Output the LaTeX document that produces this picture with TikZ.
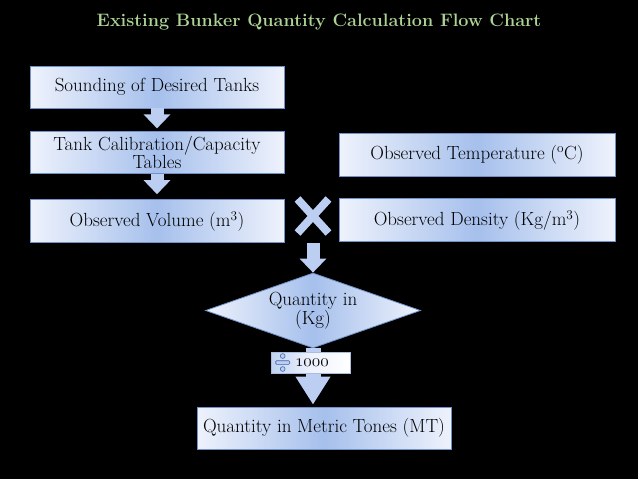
\documentclass[tikz,border=0pt]{standalone}
\usepackage{fontspec}
\usetikzlibrary{arrows.meta,positioning,shapes.geometric,shapes.misc}

\definecolor{titlegreen}{RGB}{172,210,148}
\definecolor{boxlight}{RGB}{238,242,252}
\definecolor{boxmid}{RGB}{166,192,236}
\definecolor{boxedge}{RGB}{112,146,200}
\definecolor{arrowblue}{RGB}{188,207,242}
\definecolor{iconblue}{RGB}{62,102,172}

\newcommand{\osnum}[1]{{\fontencoding{OML}\fontfamily{lmm}\fontseries{m}\fontshape{it}\selectfont #1}}

\begin{document}
\begin{tikzpicture}[
  x=1pt, y=-1pt,
  node distance=23pt,
  box/.style={draw=boxedge,line width=0.8pt,left color=boxlight,right color=boxlight,
    middle color=boxmid,minimum width=254pt,minimum height=42pt,align=center,
    inner ysep=2pt,font=\fontsize{19}{18}\selectfont},
  widebox/.style={box,minimum width=276pt},
  bigarrow/.style={arrowblue,line width=13pt,-{Triangle[width=26pt,length=14pt]}},
  fatarrow/.style={arrowblue,line width=15pt,-{Triangle[width=33pt,length=28pt]}}
]
  \fill[black] (0,0) rectangle (638,479);
  \useasboundingbox (0,0) rectangle (638,479);

  \node[font=\fontsize{18}{20}\selectfont\bfseries,text=titlegreen] (title) at (319,22)
    {Existing Bunker Quantity Calculation Flow Chart};

  % left column
  \node[box] (sound) at (157,87) {Sounding of Desired Tanks};
  \node[box,below=of sound] (calib) {Tank Calibration/Capacity\\Tables};
  \node[box,below=25pt of calib,minimum height=43pt] (vol) {Observed Volume (m\textsuperscript{3})};

  % right column
  \node[widebox,minimum height=43pt] (temp) at (477,154.5) {Observed Temperature (\textsuperscript{o}C)};
  \node[widebox,below=22pt of temp,minimum height=43pt] (dens) {Observed Density (Kg/m\textsuperscript{3})};

  \node[cross out,draw=arrowblue,line width=8pt,minimum width=23pt,minimum height=26pt] (mult) at (313,216) {};

  \node[diamond,draw=boxedge,line width=0.8pt,left color=boxlight,right color=boxlight,
    middle color=boxmid,minimum width=215pt,minimum height=75pt,inner sep=0pt] (dia) at (313,310.5) {};
  \node[align=center,font=\fontsize{19}{18}\selectfont] (diatext) at (dia) {Quantity in\\(Kg)};
  \node[box] (mt) at (324,428) {Quantity in Metric Tones (MT)};

  \draw[bigarrow,shorten >=3pt] (sound) -- (calib);
  \draw[bigarrow,shorten >=5pt] (calib) -- (vol);
  \draw[bigarrow,shorten <=10pt] (mult.south) -- (mult.south |- dia.north);
  \draw[fatarrow,shorten >=2pt] (dia.south) -- (dia.south |- mt.north);

  % divide by 1000
  \node[draw=boxedge!60,line width=0.6pt,left color=boxmid!70,right color=white,
    middle color=boxlight,text width=59pt,inner xsep=10pt,minimum height=21pt,inner ysep=0pt,
    align=left,font=\fontsize{17}{18}\selectfont] (div) at (310.5,362.5)
    {\hspace*{14pt}\osnum{1000}};
  \begin{scope}[shift={(div.west)}]
    \filldraw[fill=arrowblue,draw=iconblue,line width=0.6pt,rounded corners=1pt] (5,-1.8) rectangle (19,1.8);
    \filldraw[fill=arrowblue,draw=iconblue,line width=0.6pt] (12,-6.5) circle (2.4pt);
    \filldraw[fill=arrowblue,draw=iconblue,line width=0.6pt] (12,6.5) circle (2.4pt);
  \end{scope}
\end{tikzpicture}
\end{document}
